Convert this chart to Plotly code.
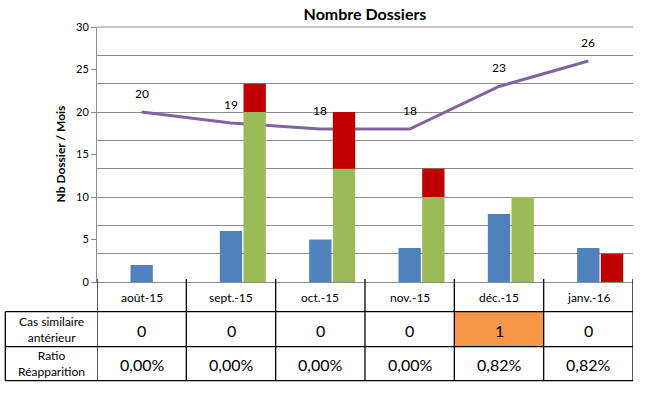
import plotly.graph_objects as go

# ---- data ----
categories = ["août-15", "sept.-15", "oct.-15", "nov.-15", "déc.-15", "janv.-16"]
blue_values = [2, 6, 5, 4, 8, 4]            # primary axis (0-30)
green_values = [0, 6, 4, 3, 3, 0]           # secondary axis (0-9)
red_values = [0, 1, 2, 1, 0, 1]             # secondary axis, stacked on green
line_values = [20, 18.7, 18, 18, 23, 26]    # primary axis
cas_similaire = [0, 0, 0, 0, 1, 0]
ratio_reapparition = [0.00, 0.00, 0.00, 0.00, 0.82, 0.82]
row_labels = ["Cas similaire<br>antérieur", "Ratio<br>Réapparition"]

FONT = "Lato, Carlito, Calibri, 'Open Sans', sans-serif"
W, H = 646, 394
L, R, T, B = 97, 13, 27, 112
PW, PH = W - L - R, H - T - B

def px_x(p):
    return (p - L) / PW

def px_y(p):
    return (H - B - p) / PH

idx = list(range(len(categories)))

fig = go.Figure()
fig.add_trace(go.Bar(x=idx, y=blue_values, width=0.25, offset=-0.125,
                     marker=dict(color="#4F81BD", line=dict(width=0)), yaxis="y"))
fig.add_trace(go.Bar(x=idx, y=green_values, width=0.25, offset=0.14,
                     marker=dict(color="#9BBB59", line=dict(width=0)), yaxis="y2"))
fig.add_trace(go.Bar(x=idx, y=red_values, base=green_values, width=0.25, offset=0.14,
                     marker=dict(color="#C00000", line=dict(width=0)), yaxis="y2"))
fig.add_trace(go.Scatter(x=idx, y=line_values, mode="lines",
                         line=dict(color="#8064A2", width=3), yaxis="y"))

annotations = []
# line labels
for i, v in zip(idx, line_values):
    annotations.append(dict(x=i, y=v, xref="x", yref="y", text=f"{v:.0f}", showarrow=False,
                            xanchor="center", yanchor="middle",
                            yshift=19, font=dict(size=12, color="#000000")))

# table text
row_y_header = px_y(297)
row_y_cas = px_y(330)
row_y_ratio = px_y(364)
for i, c in enumerate(categories):
    annotations.append(dict(x=i, y=row_y_header, xref="x", yref="paper", text=c, showarrow=False,
                            xanchor="center", yanchor="middle",
                            font=dict(size=12, color="#000000")))
    annotations.append(dict(x=i, y=row_y_cas, xref="x", yref="paper", text=str(cas_similaire[i]),
                            xanchor="center", yanchor="middle",
                            showarrow=False, font=dict(size=16, color="#000000")))
    annotations.append(dict(x=i, y=row_y_ratio, xref="x", yref="paper",
                            text=f"{ratio_reapparition[i]:.2f}%".replace(".", ","),
                            xanchor="center", yanchor="middle",
                            showarrow=False, font=dict(size=16, color="#000000")))
annotations.append(dict(x=px_x(51), y=px_y(329), xref="paper", yref="paper", text=row_labels[0],
                        xanchor="center", yanchor="middle",
                        showarrow=False, font=dict(size=12, color="#000000")))
annotations.append(dict(x=px_x(51), y=px_y(363), xref="paper", yref="paper", text=row_labels[1],
                        xanchor="center", yanchor="middle",
                        showarrow=False, font=dict(size=12, color="#000000")))
# axis title
annotations.append(dict(x=px_x(60), y=0.5, xref="paper", yref="paper", text="<b>Nb Dossier / Mois</b>",
                        xanchor="center", yanchor="middle",
                        textangle=-90, showarrow=False, font=dict(size=12, color="#000000")))

shapes = []
# top gridline of the plot area
shapes.append(dict(type="line", xref="paper", yref="paper", x0=0, x1=1, y0=1, y1=1,
                   line=dict(color="#8c8c8c", width=1), layer="above"))
row1_bottom, row2_bottom, row3_bottom = px_y(311.7), px_y(346.7), px_y(380.7)
left_edge = px_x(5.3)
# highlighted cells
for i, v in enumerate(cas_similaire):
    if v > 0:
        shapes.append(dict(type="rect", xref="x", yref="paper", x0=i - 0.5, x1=i + 0.5,
                           y0=row2_bottom, y1=row1_bottom, fillcolor="#F79646",
                           line=dict(width=0), layer="below"))
line_style = dict(color="#000000", width=1.3)
for yy in (row1_bottom, row2_bottom, row3_bottom):
    shapes.append(dict(type="line", xref="paper", yref="paper", x0=left_edge, x1=1,
                       y0=yy, y1=yy, line=line_style))
for k in range(len(categories) + 1):
    shapes.append(dict(type="line", xref="x", yref="paper", x0=k - 0.5, x1=k - 0.5,
                       y0=px_y(279), y1=row3_bottom, line=line_style))
shapes.append(dict(type="line", xref="paper", yref="paper", x0=left_edge, x1=left_edge,
                   y0=row1_bottom, y1=row3_bottom, line=line_style))

fig.update_layout(
    width=W, height=H,
    margin=dict(l=L, r=R, t=T, b=B),
    paper_bgcolor="white", plot_bgcolor="white",
    font=dict(family=FONT, size=11, color="#000000"),
    showlegend=False,
    barmode="overlay",
    title=dict(text="<b>Nombre Dossiers</b>", x=px_x(365), xref="paper", xanchor="center",
               y=1 - 14 / H, yanchor="middle", font=dict(size=16, color="#000000")),
    xaxis=dict(range=[-0.5, 5.5], showticklabels=False, showgrid=False, zeroline=False,
               showline=True, linecolor="#8c8c8c", linewidth=1, ticks=""),
    yaxis=dict(range=[0, 30], dtick=5, showgrid=False, zeroline=False, showline=True,
               linecolor="#8c8c8c", linewidth=1, ticks="outside", ticklen=5, tickcolor="#8c8c8c",
               tickfont=dict(size=11, color="#000000")),
    yaxis2=dict(range=[0, 9], dtick=1, overlaying="y", side="right", showgrid=True,
                gridcolor="#8c8c8c", gridwidth=1, showticklabels=False, zeroline=False,
                showline=False, ticks=""),
    annotations=annotations,
    shapes=shapes,
)

fig.write_html("out.html", config={"displayModeBar": False},
               post_script="document.body.style.margin='0';document.body.style.padding='0';")
